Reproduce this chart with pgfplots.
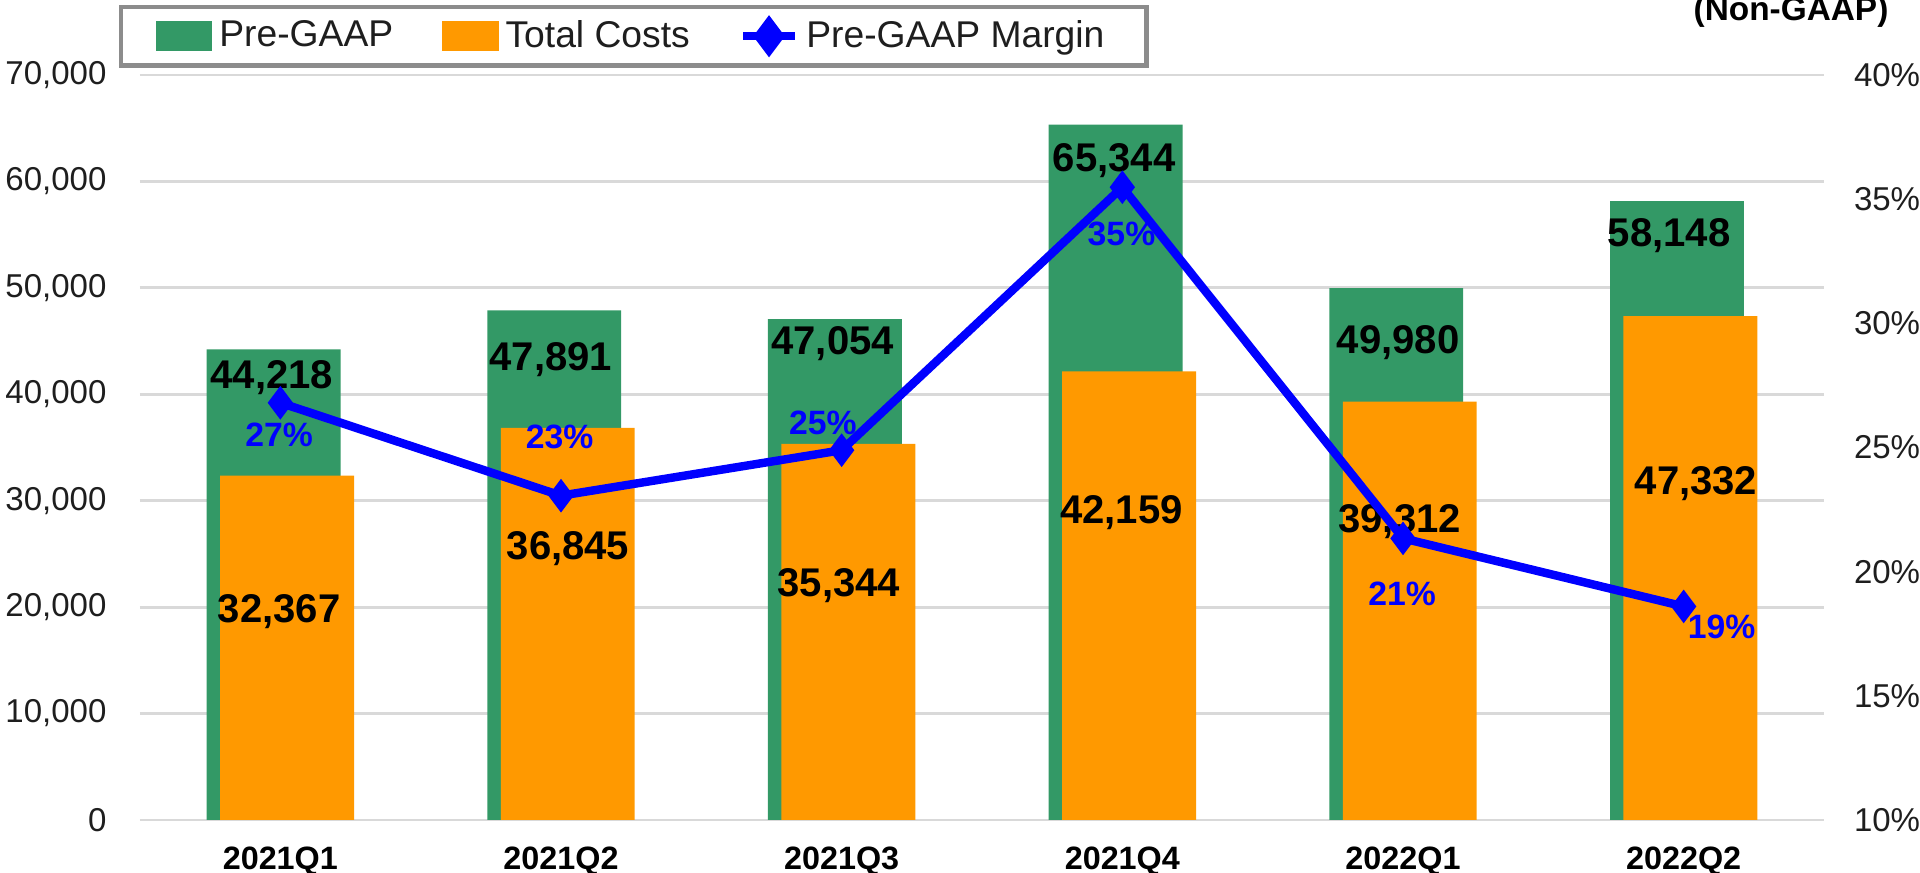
\documentclass[border=0pt]{standalone}
\usepackage{fontspec}
\setmainfont{Liberation Sans}
\usepackage{pgfplots}
\pgfplotsset{compat=1.18}
\definecolor{barGreen}{RGB}{51,153,102}
\definecolor{barOrange}{RGB}{255,153,0}
\definecolor{gridGray}{RGB}{217,217,217}
\definecolor{txt}{RGB}{30,30,30}
\definecolor{lineBlue}{RGB}{0,0,255}

\pgfplotsset{
  base/.style={
    scale only axis, width=16.84cm, height=7.45cm,
    xmin=-0.5, xmax=5.5,
    axis line style={draw=none},
    major tick length=0pt,
    /pgf/number format/assume math mode=true,
    /pgf/number format/1000 sep={,},
    scaled y ticks=false,
  },
  barlab/.style={draw=none, mark=none, nodes near coords, point meta=explicit symbolic,
    every node near coord/.append style={anchor=center, text=black,
      font=\fontsize{11.4}{12}\selectfont\bfseries}},
}

\begin{document}
\begin{tikzpicture}
\begin{axis}[base,
  ymin=0, ymax=70000,
  ytick={0,10000,...,70000},
  xtick={0,...,5},
  xticklabels={2021Q1,2021Q2,2021Q3,2021Q4,2022Q1,2022Q2},
  xticklabel style={font=\fontsize{9.2}{10}\selectfont\bfseries, text=black, yshift=-4pt},
  yticklabel style={font=\fontsize{9.4}{10}\selectfont, text=txt, xshift=-6pt},
  ymajorgrids, grid style={gridGray, line width=0.8pt},
]
% Pre-GAAP
\addplot[ybar, bar width=0.477, bar shift=-0.024, fill=barGreen, draw=none]
  coordinates {(0,44218) (1,47891) (2,47054) (3,65344) (4,49980) (5,58148)};
% Total Costs
\addplot[ybar, bar width=0.477, bar shift=0.024, fill=barOrange, draw=none]
  coordinates {(0,32367) (1,36845) (2,35344) (3,42159) (4,39312) (5,47332)};
% value labels
\addplot[barlab] table[meta=lab] {
x y lab
-0.03 41600 {44,218}
0.964 43300 {47,891}
1.968 44800 {47,054}
2.971 62000 {65,344}
3.983 44900 {49,980}
4.948 54900 {58,148}
};
\addplot[barlab] table[meta=lab] {
x y lab
-0.004 19600 {32,367}
1.025 25500 {36,845}
1.99 22000 {35,344}
2.997 28900 {42,159}
3.988 28000 {39,312}
5.044 31600 {47,332}
};
\end{axis}

\begin{axis}[base,
  ymin=10, ymax=40,
  ytick={10,15,...,40},
  xtick=\empty,
  axis y line*=right,
  yticklabel={\pgfmathprintnumber{\tick}\%},
  yticklabel style={font=\fontsize{9.4}{10}\selectfont, text=txt, xshift=5pt},
  legend columns=3,
  legend style={at={(axis description cs:0,1)}, anchor=north west,
    xshift=-0.21cm, yshift=0.70cm, draw=gray!90, line width=1.2pt,
    inner xsep=0.35cm, inner ysep=0.06cm,
    font=\fontsize{10.6}{12}\selectfont, text=txt,
    /tikz/every even column/.append style={column sep=0.42cm}},
]
\addlegendimage{legend image code/.code={\fill[barGreen] (0cm,-0.13cm) rectangle (0.52cm,0.13cm);}}
\addlegendimage{legend image code/.code={\fill[barOrange] (0cm,-0.13cm) rectangle (0.52cm,0.13cm);}}
% Pre-GAAP Margin
\addplot[lineBlue, line width=2.4pt, mark=diamond*, mark size=2.8pt,
  legend image code/.code={\draw[lineBlue, line width=2.4pt] (0cm,0cm) -- (0.52cm,0cm);
    \fill[lineBlue] (0.26cm,0cm) +(-3pt,0pt) -- +(0pt,4pt) -- +(3pt,0pt) -- +(0pt,-4pt) -- cycle;}]
  coordinates {(0,26.80) (1,23.06) (2,24.89) (3,35.48) (4,21.34) (5,18.60)};
\legend{Pre-GAAP, Total Costs, Pre-GAAP Margin}
\addplot[forget plot, draw=none, mark=none, nodes near coords, point meta=explicit symbolic,
  every node near coord/.append style={anchor=center, text=lineBlue,
    font=\fontsize{9.6}{10}\selectfont\bfseries}] table[meta=lab] {
x y lab
-0.004 25.51 {27\%}
0.995 25.41 {23\%}
1.933 26.00 {25\%}
2.997 33.60 {35\%}
3.997 19.10 {21\%}
5.135 17.77 {19\%}
};
\end{axis}
\node[font=\fontsize{9.5}{10}\selectfont\bfseries, anchor=base, text=black]
  at (16.51cm,7.99cm) {(Non-GAAP)};
\pgfresetboundingbox
\useasboundingbox (-1.40cm,-0.53cm) rectangle (17.80cm,8.20cm);
\end{tikzpicture}
\end{document}
